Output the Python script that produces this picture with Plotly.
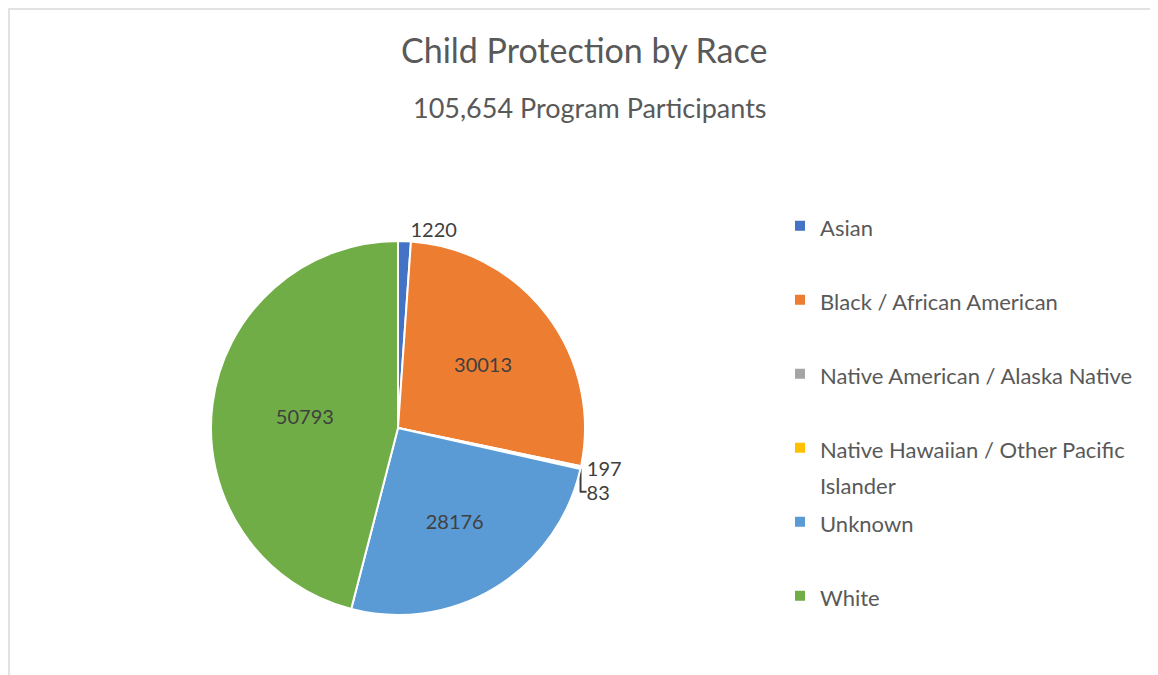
import plotly.graph_objects as go

categories = ["Asian", "Black / African American", "Native American / Alaska Native",
              "Native Hawaiian / Other Pacific Islander", "Unknown", "White"]
values = [1220, 30013, 197, 83, 28176, 50793]
colors = ["#4472C4", "#ED7D31", "#A5A5A5", "#FFC000", "#5B9BD5", "#70AD47"]
title_text = "Child Protection by Race"
subtitle_text = "105,654 Program Participants"

W, H = 1158, 675
OFF = 8  # page body margin
FONT = "Lato, 'Open Sans', sans-serif"

def px(x):
    return (x - OFF) / W

def py(y):
    return 1 - (y - OFF) / H

# legend labels: two lines each (second blank unless wrapped) so entries are spaced like the reference
LEG_SIZE = 22
legend_labels = []
for c in categories:
    if c.startswith("Native Hawaiian"):
        parts = ["Native Hawaiian / Other Pacific", "Islander"]
    else:
        parts = [c, "\u00a0"]
    legend_labels.append("<br>".join(f"<span style='font-size:{LEG_SIZE}px'>{t}</span>" for t in parts))

positions = ["outside" if v < 5000 else "inside" for v in values]

fig = go.Figure(go.Pie(
    labels=legend_labels,
    values=values,
    customdata=categories,
    sort=False,
    direction="clockwise",
    rotation=0,
    marker=dict(colors=colors, line=dict(color="white", width=2)),
    texttemplate="%{value:.0f}",
    textposition=positions,
    insidetextorientation="horizontal",
    textfont=dict(family=FONT, size=20, color="#404040"),
    outsidetextfont=dict(family=FONT, size=20, color="#404040"),
    hovertemplate="%{customdata}: %{value}<extra></extra>",
    domain=dict(x=[px(211), px(585)], y=[py(615), py(241)]),
))

fig.update_layout(
    width=W, height=H,
    margin=dict(l=0, r=0, t=0, b=0),
    paper_bgcolor="white",
    font=dict(family=FONT, color="#595959"),
    showlegend=True,
    legend=dict(
        x=px(780), y=py(201.5), xanchor="left", yanchor="top",
        valign="top",
        font=dict(family=FONT, size=27.3, color="#595959"),
    ),
    annotations=[
        dict(text=title_text, x=px(584), y=py(50), xref="paper", yref="paper",
             showarrow=False, xanchor="center", yanchor="middle",
             font=dict(family=FONT, size=34, color="#595959")),
        dict(text=subtitle_text, x=px(590), y=py(107), xref="paper", yref="paper",
             showarrow=False, xanchor="center", yanchor="middle",
             font=dict(family=FONT, size=27, color="#595959")),
    ],
    shapes=[
        dict(type="rect", xref="paper", yref="paper",
             x0=1 / W, x1=1.02, y0=-0.02, y1=1 - 1 / H,
             line=dict(color="#D9D9D9", width=1.5), fillcolor="rgba(0,0,0,0)"),
    ],
)

fig.write_html("out.html")
